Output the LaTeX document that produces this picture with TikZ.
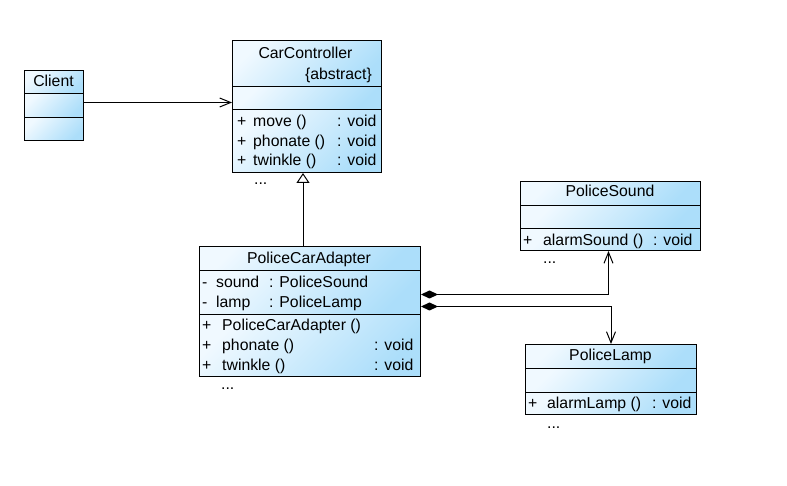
\documentclass[tikz,border=0pt]{standalone}
\usepackage{fontspec}
\setmainfont{Liberation Sans}
\usetikzlibrary{arrows.meta}
\definecolor{umlA}{RGB}{240,249,255}
\definecolor{umlB}{RGB}{172,222,250}
\begin{document}
\begin{tikzpicture}[x=1pt,y=-1pt,
  every node/.style={font=\fontsize{15.8}{19}\selectfont},
  comp/.style={draw=black, line width=1pt, top color=umlA, bottom color=umlB,
    shading angle=45, anchor=north west, inner sep=0pt},
  txt/.style={anchor=base west, inner sep=0pt},
  ttl/.style={anchor=base, inner sep=0pt},
  conn/.style={draw=black, line width=1pt},
  openarrow/.style={-{Straight Barb[length=11pt,width=9pt]}},
  genarrow/.style={-{Triangle[open,length=10pt,width=13pt,fill=white]}},
  comparrow/.style={{Diamond[length=17pt,width=8pt]}-{Straight Barb[length=11pt,width=9pt]}}
]
\path[use as bounding box] (0,0) rectangle (787,486);

% Client
\node[comp, minimum width=59pt, minimum height=23pt] (cliT) at (24,70) {};
\node[comp, minimum width=59pt, minimum height=24pt] (cliA) at (24,93) {};
\node[comp, minimum width=59pt, minimum height=23pt] (cliM) at (24,117) {};
\node[ttl] (cliN) at (53.5,87) {Client};

% CarController
\node[comp, minimum width=149pt, minimum height=46pt] (ccT) at (232,40) {};
\node[comp, minimum width=149pt, minimum height=23pt] (ccA) at (232,86) {};
\node[comp, minimum width=149pt, minimum height=63pt] (ccM) at (232,109) {};
\node[ttl] (ccN) at (305.5,58.5) {CarController};
\node[anchor=base east, inner sep=0pt] (ccS) at (372,80) {\{abstract\}};
\node[txt] (cc1p) at (237,127) {+};
\node[txt] (cc1n) at (253,127) {move ()};
\node[txt] (cc1t) at (337,127) {: void};
\node[txt] (cc2p) at (237,146.5) {+};
\node[txt] (cc2n) at (253,146.5) {phonate ()};
\node[txt] (cc2t) at (337,146.5) {: void};
\node[txt] (cc3p) at (237,166) {+};
\node[txt] (cc3n) at (253,166) {twinkle ()};
\node[txt] (cc3t) at (337,166) {: void};
\node[txt] (ccD) at (254,185) {...};

% PoliceCarAdapter
\node[comp, minimum width=221pt, minimum height=24pt] (pcaT) at (199,246) {};
\node[comp, minimum width=221pt, minimum height=44pt] (pcaA) at (199,270) {};
\node[comp, minimum width=221pt, minimum height=62pt] (pcaM) at (199,314) {};
\node[ttl] (pcaN) at (309,263.5) {PoliceCarAdapter};
\node[txt] (pa1p) at (202,287.5) {-};
\node[txt] (pa1n) at (216,287.5) {sound};
\node[txt] (pa1t) at (269,287.5) {: PoliceSound};
\node[txt] (pa2p) at (202,307.5) {-};
\node[txt] (pa2n) at (216,307.5) {lamp};
\node[txt] (pa2t) at (269,307.5) {: PoliceLamp};
\node[txt] (pm1p) at (202,330.5) {+};
\node[txt] (pm1n) at (222,330.5) {PoliceCarAdapter ()};
\node[txt] (pm2p) at (202,350.5) {+};
\node[txt] (pm2n) at (222,350.5) {phonate ()};
\node[txt] (pm2t) at (374,350.5) {: void};
\node[txt] (pm3p) at (202,370.5) {+};
\node[txt] (pm3n) at (222,370.5) {twinkle ()};
\node[txt] (pm3t) at (374,370.5) {: void};
\node[txt] (pcaD) at (221,389) {...};

% PoliceSound
\node[comp, minimum width=180pt, minimum height=24pt] (psT) at (520,181) {};
\node[comp, minimum width=180pt, minimum height=23pt] (psA) at (520,205) {};
\node[comp, minimum width=180pt, minimum height=22pt] (psM) at (520,228) {};
\node[ttl] (psN) at (610,196.5) {PoliceSound};
\node[txt] (ps1p) at (523,245.5) {+};
\node[txt] (ps1n) at (543,245.5) {alarmSound ()};
\node[txt] (ps1t) at (653,245.5) {: void};
\node[txt] (psD) at (543,264) {...};

% PoliceLamp
\node[comp, minimum width=171pt, minimum height=24pt] (plT) at (525,344) {};
\node[comp, minimum width=171pt, minimum height=24pt] (plA) at (525,368) {};
\node[comp, minimum width=171pt, minimum height=22pt] (plM) at (525,392) {};
\node[ttl] (plN) at (610.5,360.5) {PoliceLamp};
\node[txt] (pl1p) at (528,408.5) {+};
\node[txt] (pl1n) at (547,408.5) {alarmLamp ()};
\node[txt] (pl1t) at (652,408.5) {: void};
\node[txt] (plD) at (547,428) {...};

% connectors
\coordinate (g) at (303,0);
\draw[conn, openarrow] ([yshift=3pt]cliA.east) -- ([yshift=3pt]cliA.east -| ccA.west);
\draw[conn, genarrow] (pcaT.north -| g) -- (ccM.south -| g);
\draw[conn, comparrow] ([yshift=-2pt]pcaA.east) -| ([xshift=-2pt]psM.south);
\draw[conn, comparrow] ([yshift=-14pt]pcaA.east) -| (plT.north);
\end{tikzpicture}
\end{document}
